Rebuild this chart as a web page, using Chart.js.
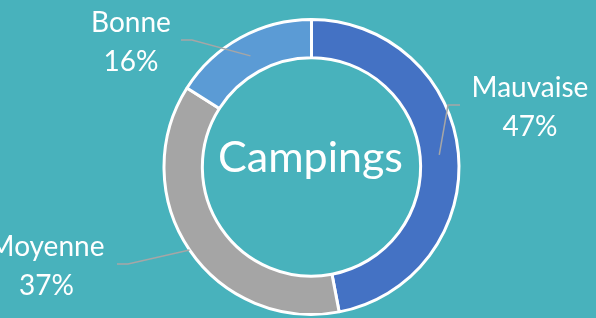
<!DOCTYPE html>
<html><head><meta charset="utf-8">
<script src="https://cdn.jsdelivr.net/npm/chart.js@4/dist/chart.umd.min.js"></script>
<style>
html,body{margin:0;padding:0;background:#48B2BC;overflow:hidden}
#wrap{width:596px;height:318px;position:relative}
</style>
</head><body><div id="wrap"><canvas id="c"></canvas></div>
<script>
const categories = ['Mauvaise', 'Moyenne', 'Bonne'];
const values = [47, 37, 16];
const percentLabels = ['47%', '37%', '16%'];
const centerTitle = 'Campings';

const sliceColors = ['#4472C4', '#A5A5A5', '#5B9BD5'];
// label layout, relative to doughnut centre
const labelLayout = [
  {text: [218.5, -70], start: [148.5, -62], elbow: [136.5, -62], frac: 0.5},
  {text: [-265, 89], start: [-194.5, 97], elbow: [-183.5, 97], frac: 1.0},
  {text: [-180.5, -135], start: [-130.5, -127], elbow: [-119.5, -127], frac: 0.46}
];

const labelPlugin = {
  id: 'outLabels',
  afterDatasetsDraw(chart) {
    const ctx = chart.ctx;
    const meta = chart.getDatasetMeta(0);
    ctx.save();
    meta.data.forEach((arc, i) => {
      const p = arc.getProps(['x','y','startAngle','endAngle','innerRadius','outerRadius'], true);
      const mid = (p.startAngle + p.endAngle) / 2;
      const L = labelLayout[i];
      const r = p.innerRadius + L.frac * (p.outerRadius - p.innerRadius);
      ctx.strokeStyle = '#A6A6A6';
      ctx.lineWidth = 1.5;
      ctx.beginPath();
      ctx.moveTo(p.x + L.start[0], p.y + L.start[1]);
      ctx.lineTo(p.x + L.elbow[0], p.y + L.elbow[1]);
      ctx.lineTo(p.x + r * Math.cos(mid), p.y + r * Math.sin(mid));
      ctx.stroke();
      ctx.fillStyle = '#FFFFFF';
      ctx.font = '28px Lato';
      ctx.textAlign = 'center';
      ctx.textBaseline = 'alphabetic';
      ctx.fillText(chart.data.labels[i], p.x + L.text[0], p.y + L.text[1]);
      ctx.fillText(percentLabels[i], p.x + L.text[0], p.y + L.text[1] + 38.5);
    });
    const a = meta.data[0];
    ctx.font = '43px Lato';
    ctx.fillText(centerTitle, a.x - 1, a.y + 5);
    ctx.restore();
  }
};

new Chart(document.getElementById('c'), {
  type: 'doughnut',
  data: {
    labels: categories,
    datasets: [{
      data: values,
      backgroundColor: sliceColors,
      borderColor: '#FFFFFF',
      borderWidth: 3,
      hoverOffset: 0
    }]
  },
  options: {
    responsive: true,
    maintainAspectRatio: false,
    animation: false,
    cutout: '74%',
    layout: {padding: {top: 18, bottom: 2, left: 27, right: 0}},
    plugins: {legend: {display: false}, tooltip: {enabled: false}}
  },
  plugins: [labelPlugin]
});
</script>
</body></html>
